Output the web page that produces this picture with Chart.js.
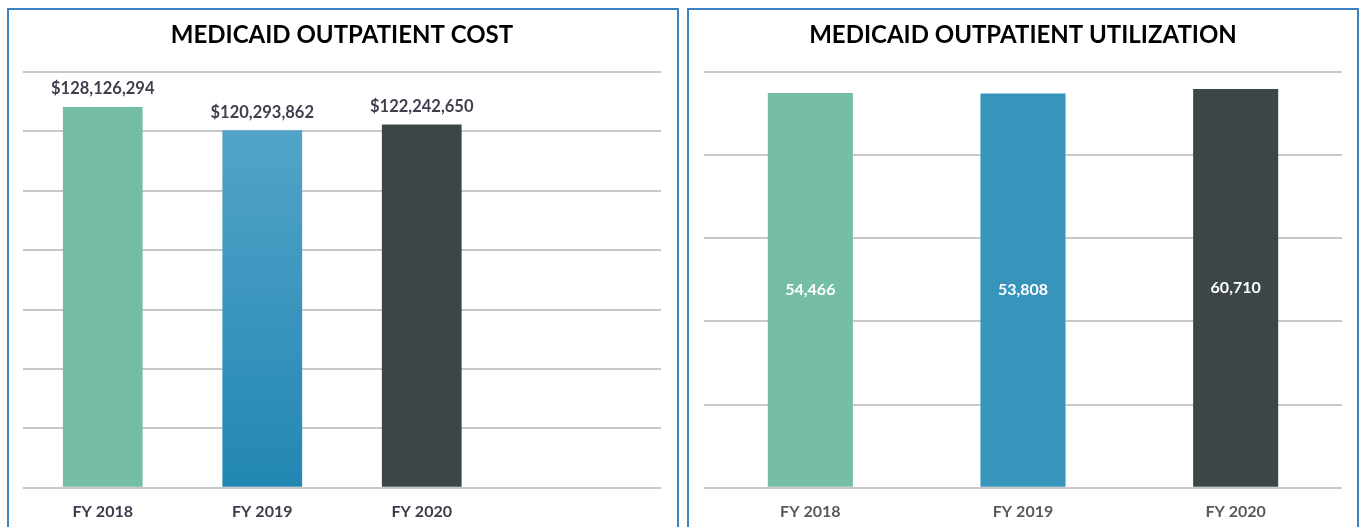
<!DOCTYPE html>
<html>
<head>
<meta charset="utf-8">
<script src="https://cdn.jsdelivr.net/npm/chart.js@4.4.0/dist/chart.umd.min.js"></script>
<style>
    body { margin: 0; background: #fff; width: 1360px; height: 527px; overflow: hidden; position: relative; }
    .painel { position: absolute; top: 8px; height: 540px; width: 672px; border: 2px solid #3C82C2; box-sizing: border-box; }
    #p1 { left: 7px; }
    #p2 { left: 687px; }
    .painel canvas { position: absolute; left: 0; top: 0; }
</style>
</head>
<body>
<div class="painel" id="p1"><canvas id="custo" width="668" height="531"></canvas></div>
<div class="painel" id="p2"><canvas id="utilizacao" width="668" height="531"></canvas></div>
<script>
// dados
const anos = ['FY 2018', 'FY 2019', 'FY 2020']
const custo = [128126294, 120293862, 122242650]
const utilizacao = [54466, 53808, 60710]

// escala do custo (eixo escondido)
const custoMin = 0
const custoMax = 140000000
const custoPasso = 20000000

// escala da utilizacao: as barras nao sao proporcionais aos rotulos
const utilMin = -560000
const utilMax = 87500
const utilPasso = 129500

const fonte = 'Lato, "Open Sans", sans-serif'

let coresCusto = ['#76BDA6', 'gradiente', '#3D4647']
let coresUtil = ['#76BDA6', '#3794BB', '#3D4647']

function corCusto(ctx) {
    let cor = coresCusto[ctx.dataIndex]
    if (cor != 'gradiente') return cor
    const area = ctx.chart.chartArea
    if (!area) return '#3A97C2'
    let g = ctx.chart.ctx.createLinearGradient(0, area.top, 0, area.bottom)
    g.addColorStop(0, '#5AA8CC')
    g.addColorStop(1, '#2287B3')
    return g
}

// rotulos das barras
const rotulos = {
    id: 'rotulos',
    afterDatasetsDraw(chart, args, opts) {
        const ctx = chart.ctx
        const meta = chart.getDatasetMeta(0)
        const valores = chart.data.datasets[0].data
        ctx.save()
        ctx.font = 'bold ' + opts.tamanho + 'px ' + fonte
        ctx.textAlign = 'center'
        ctx.textBaseline = 'middle'
        meta.data.forEach((barra, i) => {
            if (valores[i] == null) return
            let texto = (opts.prefixo || '') + valores[i].toLocaleString('en-US')
            let y = opts.dentro ? (barra.y + barra.base) / 2 : barra.y - 18
            ctx.fillStyle = opts.cor
            ctx.fillText(texto, barra.x, y)
        })
        ctx.restore()
    }
}

function opcoes(titulo, min, max, passo, corTick, padEsq, padDir, rot) {
    return {
        responsive: false,
        animation: false,
        layout: { padding: { left: padEsq, right: padDir, top: 0, bottom: 6 } },
        scales: {
            x: {
                grid: { display: false, drawTicks: false },
                border: { display: false },
                ticks: { color: corTick, padding: 14, font: { family: fonte, size: 16, weight: 'bold' } }
            },
            y: {
                min: min,
                max: max,
                ticks: { display: false, stepSize: passo },
                grid: { color: '#C8C8C8', lineWidth: 2, drawTicks: false },
                border: { display: false }
            }
        },
        plugins: {
            legend: { display: false },
            tooltip: { enabled: false },
            title: {
                display: true,
                text: titulo,
                color: '#000',
                font: { family: fonte, size: 24, weight: 'bold' },
                padding: { top: 11, bottom: 22 }
            },
            rotulos: rot
        }
    }
}

new Chart(document.getElementById('custo'), {
    type: 'bar',
    data: {
        labels: [...anos, ''],
        datasets: [{
            data: [...custo, null],
            backgroundColor: corCusto,
            barPercentage: 0.5,
            categoryPercentage: 1
        }]
    },
    options: opcoes('MEDICAID OUTPATIENT COST', custoMin, custoMax, custoPasso, '#3B3B4B', 14, 16,
        { prefixo: '$', dentro: false, cor: '#3F3F4F', tamanho: 16.5 }),
    plugins: [rotulos]
})

new Chart(document.getElementById('utilizacao'), {
    type: 'bar',
    data: {
        labels: anos,
        datasets: [{
            data: utilizacao,
            base: utilMin,
            backgroundColor: coresUtil,
            barPercentage: 0.4,
            categoryPercentage: 1
        }]
    },
    options: opcoes('MEDICAID OUTPATIENT UTILIZATION', utilMin, utilMax, utilPasso, '#595959', 15, 15,
        { dentro: true, cor: '#FFFFFF', tamanho: 16 }),
    plugins: [rotulos]
})
</script>
</body>
</html>
